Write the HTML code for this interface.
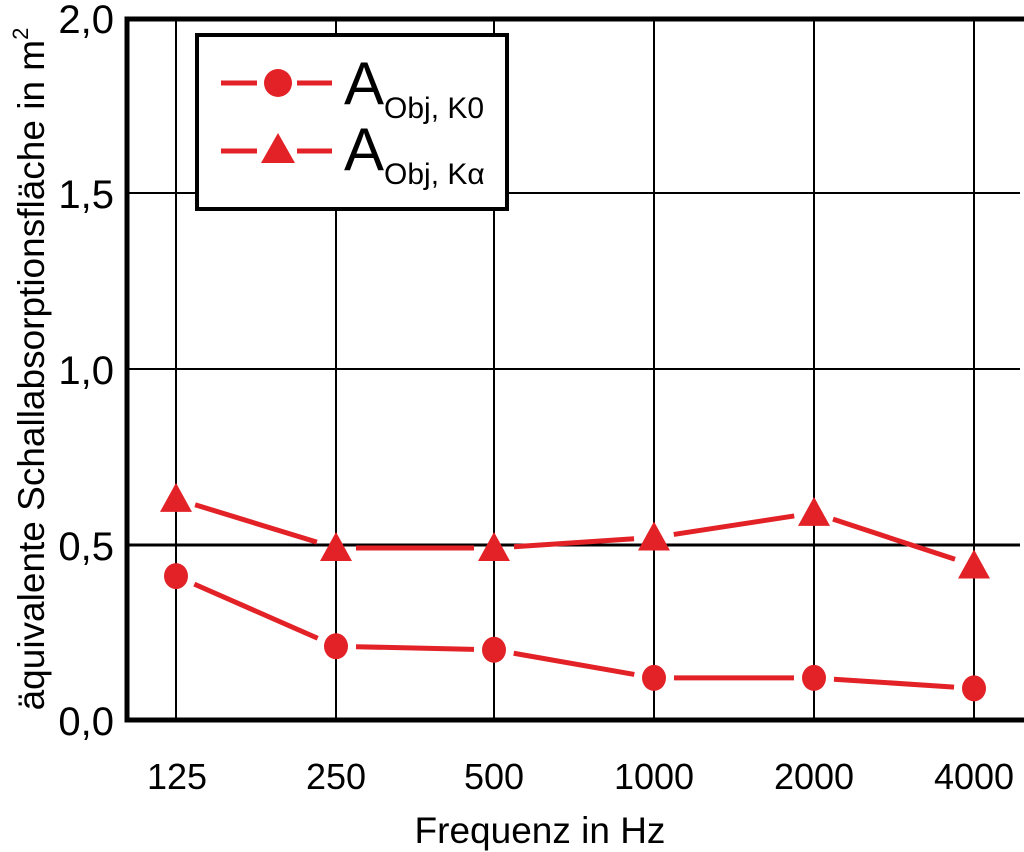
<!DOCTYPE html>
<html><head><meta charset="utf-8"><style>
html,body{margin:0;padding:0;background:#fff;}
svg{display:block;font-family:"Liberation Sans",Arial,sans-serif;}
</style></head><body>
<svg id="s" width="1024" height="852" viewBox="0 0 1024 852" xmlns="http://www.w3.org/2000/svg">
<g stroke="#000" stroke-width="2">
<line x1="176" y1="18" x2="176" y2="720"/><line x1="336" y1="18" x2="336" y2="720"/>
<line x1="494" y1="18" x2="494" y2="720"/><line x1="654" y1="18" x2="654" y2="720"/>
<line x1="814" y1="18" x2="814" y2="720"/><line x1="974" y1="18" x2="974" y2="720"/>
<line x1="126" y1="193" x2="1020" y2="193"/><line x1="126" y1="369" x2="1020" y2="369"/>
<line x1="126" y1="545" x2="1020" y2="545" stroke-width="3"/>
</g>
<rect x="127" y="19" width="900" height="701" fill="none" stroke="#000" stroke-width="5"/>
<g font-size="40" text-anchor="end" fill="#000">
<text x="114" y="33">2,0</text><text x="114" y="208">1,5</text>
<text x="114" y="384">1,0</text><text x="114" y="560">0,5</text><text x="114" y="735">0,0</text>
</g>
<g font-size="36" text-anchor="middle" fill="#000">
<text x="177" y="789">125</text><text x="336" y="789">250</text><text x="494" y="789">500</text>
<text x="654" y="789">1000</text><text x="814" y="789">2000</text><text x="974" y="789">4000</text>
<text x="540" y="843" font-size="37">Frequenz in Hz</text>
<text transform="translate(44,369) rotate(-90)" font-size="37">äquivalente Schallabsorptionsfläche in m<tspan font-size="22" dy="-16">2</tspan></text>
</g>
<g id="data"></g>
<rect x="197" y="35" width="310" height="174" fill="#fff" stroke="#000" stroke-width="4"/>
<g stroke="#e32227" stroke-width="5">
<line x1="221" y1="83" x2="257" y2="83"/><line x1="297" y1="83" x2="332" y2="83"/>
<line x1="221" y1="151" x2="257" y2="151"/><line x1="297" y1="151" x2="332" y2="151"/>
</g>
<circle cx="278" cy="83" r="14" fill="#e32227"/>
<polygon points="261,163 295,163 278,133" fill="#e32227"/>
<text x="344" y="104" font-size="60">A<tspan font-size="30" dy="14">Obj, K0</tspan></text>
<text x="344" y="170" font-size="60">A<tspan font-size="30" dy="14">Obj, Kα</tspan></text>
</svg>
<script>
var xs=[176,336,494,654,814,974];
function Y(v){return 720-v*351;}
var k0=[0.41,0.21,0.20,0.12,0.12,0.09], ka=[0.63,0.49,0.49,0.52,0.59,0.44];
var g=document.getElementById('data'),h='';
function seg(a){for(var i=0;i<5;i++){var x1=xs[i],y1=Y(a[i]),x2=xs[i+1],y2=Y(a[i+1]);var dx=x2-x1,dy=y2-y1,L=Math.hypot(dx,dy),o=20;
h+='<line x1="'+(x1+dx*o/L)+'" y1="'+(y1+dy*o/L)+'" x2="'+(x2-dx*o/L)+'" y2="'+(y2-dy*o/L)+'" stroke="#e32227" stroke-width="5"/>';}}
seg(k0);seg(ka);
for(var i=0;i<6;i++){h+='<ellipse cx="'+xs[i]+'" cy="'+Y(k0[i])+'" rx="12" ry="13" fill="#e32227"/>';
var y=Y(ka[i]);h+='<polygon points="'+(xs[i]-16)+','+(y+13)+' '+(xs[i]+16)+','+(y+13)+' '+xs[i]+','+(y-16)+'" fill="#e32227"/>';}
g.innerHTML=h;
</script>
</body></html>
